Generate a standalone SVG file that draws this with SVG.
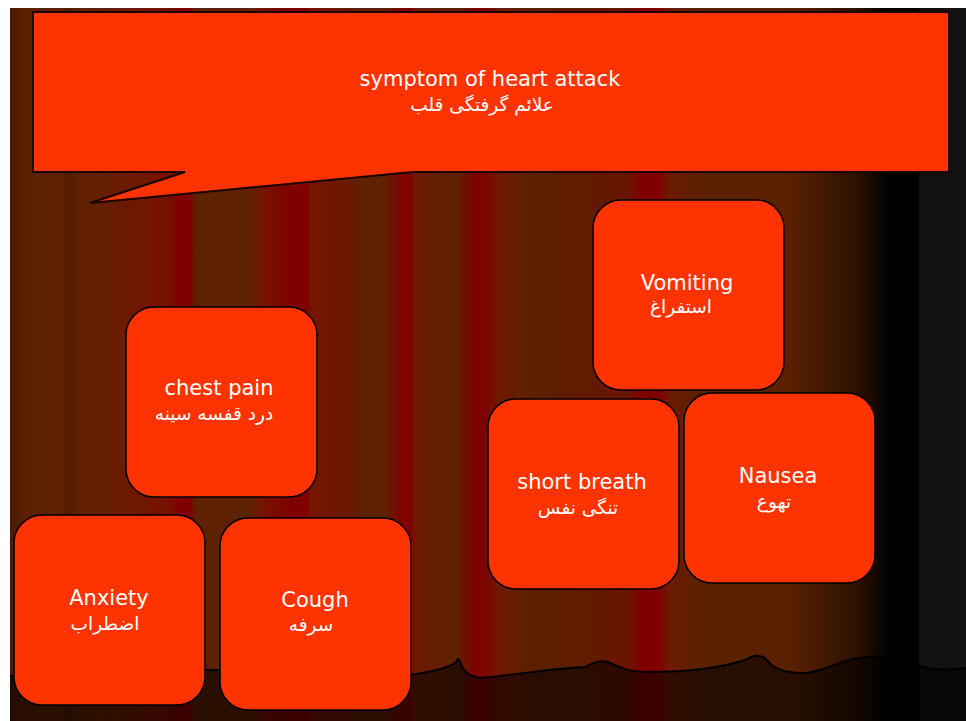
<svg xmlns="http://www.w3.org/2000/svg" width="966" height="721" viewBox="0 0 966 721">
<style>
.node{fill:#ff3300;stroke:#000;stroke-width:1.5}
.en{font-family:"DejaVu Sans",sans-serif;font-size:21px;fill:#fff;text-anchor:middle}
.fa{font-family:"DejaVu Sans","Noto Sans",sans-serif;font-size:18.5px;fill:#fff;text-anchor:middle}
</style>
<defs>
<linearGradient id="curtain" gradientUnits="userSpaceOnUse" x1="10" y1="0" x2="966" y2="0">
<stop offset="0" stop-color="#4a1a00"/>
<stop offset="0.0126" stop-color="#5a2000"/>
<stop offset="0.0523" stop-color="#5e2200"/>
<stop offset="0.0628" stop-color="#4e1c00"/>
<stop offset="0.069" stop-color="#5e2200"/>
<stop offset="0.115" stop-color="#6a1c00"/>
<stop offset="0.1674" stop-color="#781000"/>
<stop offset="0.1778" stop-color="#800000"/>
<stop offset="0.1883" stop-color="#800000"/>
<stop offset="0.1946" stop-color="#5e2200"/>
<stop offset="0.251" stop-color="#5e2200"/>
<stop offset="0.2636" stop-color="#761400"/>
<stop offset="0.2929" stop-color="#800000"/>
<stop offset="0.3096" stop-color="#800000"/>
<stop offset="0.3159" stop-color="#761400"/>
<stop offset="0.3556" stop-color="#6a1800"/>
<stop offset="0.3661" stop-color="#5e2200"/>
<stop offset="0.3912" stop-color="#5e2200"/>
<stop offset="0.4027" stop-color="#740e00"/>
<stop offset="0.4121" stop-color="#800000"/>
<stop offset="0.4184" stop-color="#800000"/>
<stop offset="0.4247" stop-color="#6e1a00"/>
<stop offset="0.455" stop-color="#621e00"/>
<stop offset="0.4686" stop-color="#5e2200"/>
<stop offset="0.476" stop-color="#6e1000"/>
<stop offset="0.4895" stop-color="#800000"/>
<stop offset="0.5" stop-color="#7a0800"/>
<stop offset="0.5126" stop-color="#6e1a00"/>
<stop offset="0.5544" stop-color="#5a2000"/>
<stop offset="0.6485" stop-color="#6a1400"/>
<stop offset="0.659" stop-color="#800000"/>
<stop offset="0.68" stop-color="#800000"/>
<stop offset="0.6883" stop-color="#6e1a00"/>
<stop offset="0.722" stop-color="#5a2000"/>
<stop offset="0.8159" stop-color="#5a2000"/>
<stop offset="0.8891" stop-color="#2a1000"/>
<stop offset="0.92" stop-color="#000"/>
<stop offset="0.9498" stop-color="#000"/>
<stop offset="0.9519" stop-color="#111"/>
<stop offset="1" stop-color="#131313"/>
</linearGradient>
</defs>
<rect x="0" y="0" width="966" height="721" fill="#fff"/>
<g id="background">
<rect x="10" y="8" width="956" height="713" fill="url(#curtain)"/>
<path d="M10,676 C60,674 150,672 205,670 C300,668 380,672 410,675 C430,672 450,668 456,662 C458,657 460,659 461,664 C463,672 470,676 480,678 C520,674 560,668 585,667 C595,662 602,659 610,663 C620,668 630,672 650,672 C690,672 720,668 745,660 C752,656 758,654 765,658 C770,664 775,670 790,672 C805,675 815,672 835,665 C850,658 865,656 895,656 C905,656 912,660 918,664 C925,670 945,670 966,668 L966,721 L10,721 Z" fill="#000" fill-opacity="0.55"/>
<path d="M10,676 C60,674 150,672 205,670 C300,668 380,672 410,675 C430,672 450,668 456,662 C458,657 460,659 461,664 C463,672 470,676 480,678 C520,674 560,668 585,667 C595,662 602,659 610,663 C620,668 630,672 650,672 C690,672 720,668 745,660 C752,656 758,654 765,658 C770,664 775,670 790,672 C805,675 815,672 835,665 C850,658 865,656 895,656 C905,656 912,660 918,664 C925,670 945,670 966,668" fill="none" stroke="#000" stroke-width="2"/>
</g>
<g id="title">
<path d="M33,12 H949 V172 H413 L90,203 L185,172 H33 Z" fill="#ff3300" stroke="#1a0500" stroke-width="2" stroke-linejoin="miter"/>
<text class="en" x="490" y="86">symptom of heart attack</text>
<text class="fa" x="482" y="111">علائم گرفتگی  قلب</text>
</g>
<g id="connectors"></g>
<g id="chest-pain">
<rect class="node" x="126" y="307" width="191" height="190" rx="28"/>
<text class="en" x="219" y="395">chest pain</text>
<text class="fa" x="214" y="420">درد قفسه سینه</text>
</g>
<g id="anxiety">
<rect class="node" x="14" y="515" width="191" height="190" rx="28"/>
<text class="en" x="109" y="605">Anxiety</text>
<text class="fa" x="105" y="630">اضطراب</text>
</g>
<g id="cough">
<rect class="node" x="220" y="518" width="191" height="192" rx="28"/>
<text class="en" x="315" y="607">Cough</text>
<text class="fa" x="311" y="631">سرفه</text>
</g>
<g id="vomiting">
<rect class="node" x="593" y="200" width="191" height="190" rx="28"/>
<text class="en" x="687" y="290">Vomiting</text>
<text class="fa" x="681" y="313">استفراغ</text>
</g>
<g id="short-breath">
<rect class="node" x="488" y="399" width="191" height="190" rx="28"/>
<text class="en" x="582" y="489">short breath</text>
<text class="fa" x="578" y="514">تنگی نفس</text>
</g>
<g id="nausea">
<rect class="node" x="684" y="393" width="191" height="190" rx="28"/>
<text class="en" x="778" y="483">Nausea</text>
<text class="fa" x="774" y="508">تهوع</text>
</g>
</svg>
